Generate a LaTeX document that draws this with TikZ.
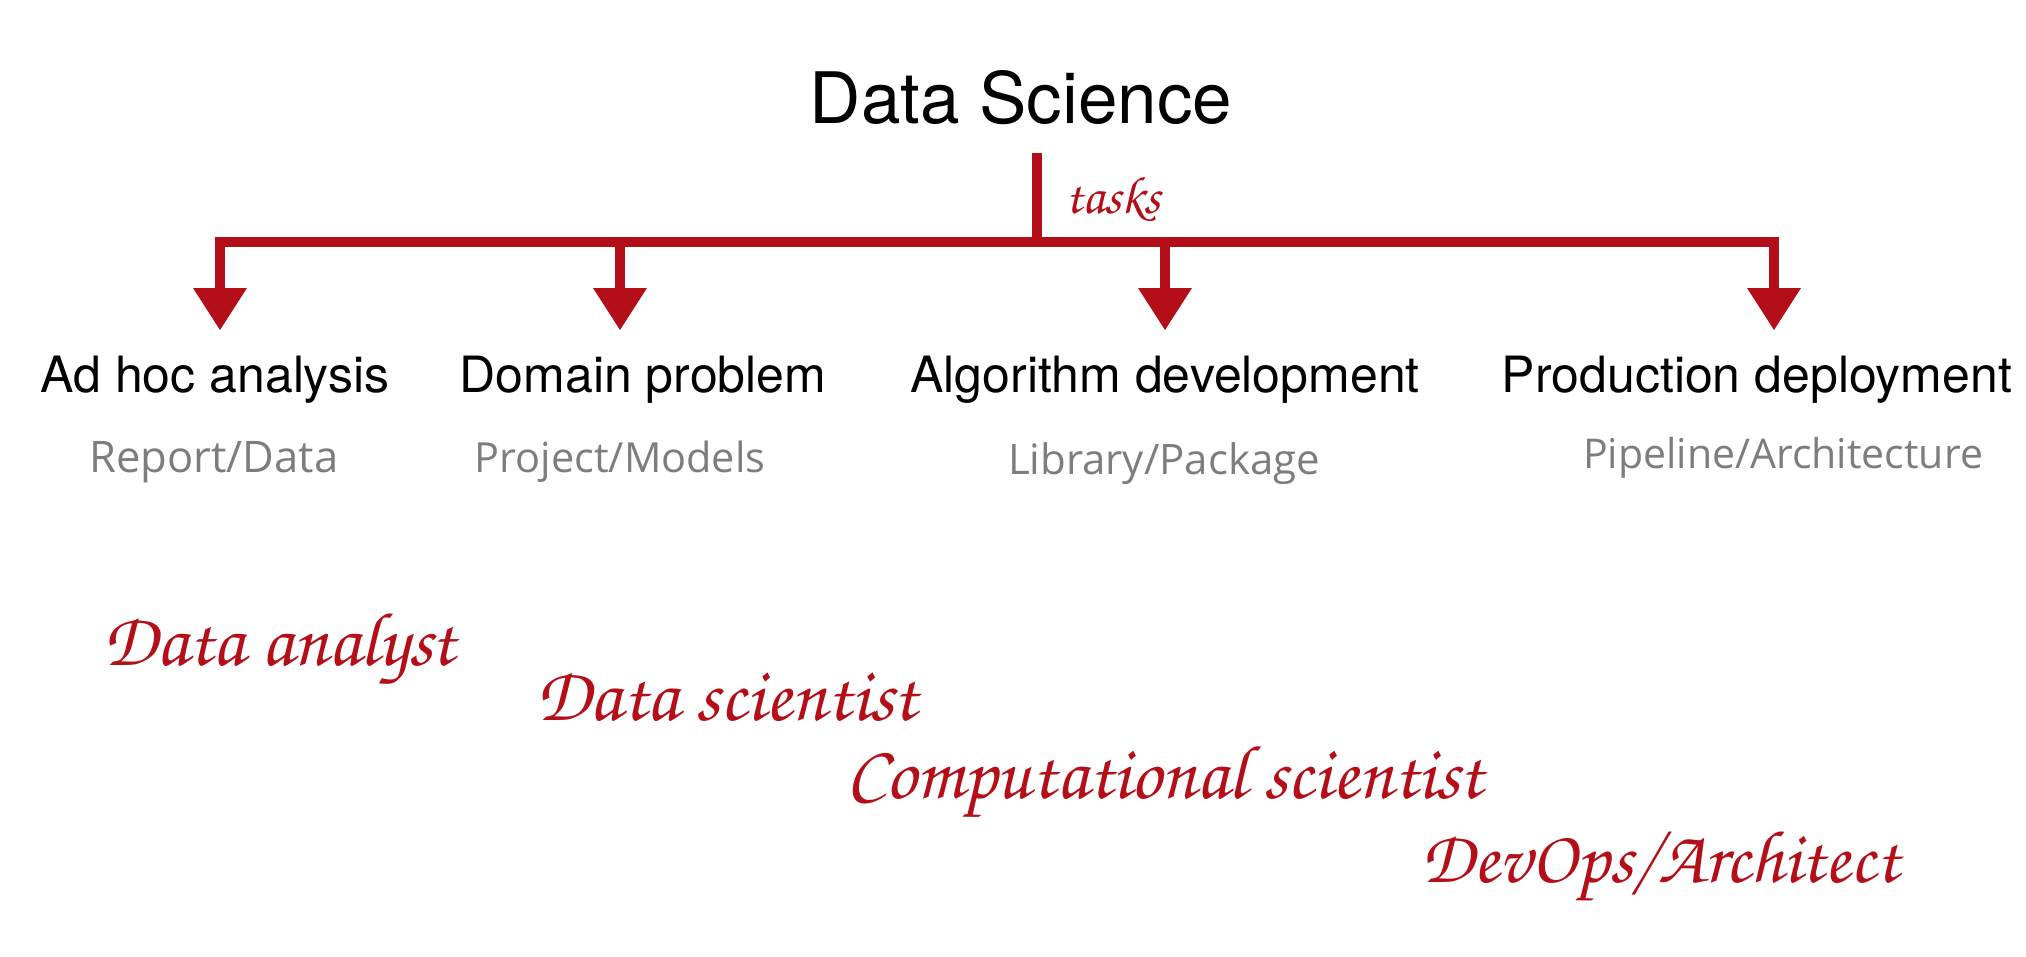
\documentclass[tikz,border=0pt]{standalone}
\usepackage{fontspec}
\usepackage{graphicx}
\usetikzlibrary{arrows.meta}
\setmainfont{TeX Gyre Heros}
\newfontfamily\handfont{texgyrechorus-mediumitalic.otf}
\newfontfamily\subfont{Open Sans}
\definecolor{crayon}{RGB}{180,14,24}
\definecolor{subgray}{RGB}{125,125,125}
\newcommand{\fitw}[2]{\resizebox{#1pt}{!}{#2}}
\begin{document}
\begin{tikzpicture}[x=1pt,y=-1pt,
  titletext/.style={font=\fontsize{71}{80}\selectfont, inner sep=0pt, anchor=base},
  tasktext/.style={font=\fontsize{50}{60}\selectfont, inner sep=0pt, anchor=base},
  subtext/.style={text=subgray, inner sep=0pt, anchor=base},
  roletext/.style={text=crayon, inner sep=0pt, anchor=base west},
  crayonline/.style={draw=crayon, line width=10pt},
  tiphead/.style={-{Triangle[width=54pt,length=42pt,line width=0pt]}}
]
\useasboundingbox (0,0) rectangle (2026,956);
% title
\node[titletext] (title) at (1021,123) {Data Science};
% connectors
\coordinate (top) at (1037,153);
\coordinate (hub) at (1037,242);
\coordinate (cL) at (220,242);
\coordinate (cB) at (620,242);
\coordinate (cC) at (1165,242);
\coordinate (cR) at (1774,242);
\coordinate (tA) at (220,330);
\coordinate (tB) at (620,330);
\coordinate (tC) at (1165,330);
\coordinate (tD) at (1774,330);
\draw[crayonline] (top) -- ([yshift=-5pt]hub);
\draw[crayonline, {Triangle[width=54pt,length=42pt,line width=0pt]}-{Triangle[width=54pt,length=42pt,line width=0pt]}, line join=miter] (tA) -- (cL) -- (cR) -- (tD);
\draw[crayonline, tiphead] ([yshift=-5pt]cB) -- (tB);
\draw[crayonline, tiphead] ([yshift=-5pt]cC) -- (tC);
\node[roletext] (tasks) at (1065,213) {\fitw{95}{\handfont\fontsize{40}{40}\selectfont tasks}};
% tasks
\node[tasktext] (adhoc) at (215,392) {Ad hoc analysis};
\node[tasktext] (domain) at (643,392) {Domain problem};
\node[tasktext] (algo) at (1165,392) {Algorithm development};
\node[tasktext] (prod) at (1757,392) {Production deployment};
% subtitles
\node[subtext] (report) at (214,472) {\fitw{249}{\subfont\fontsize{40}{40}\selectfont Report/Data}};
\node[subtext] (project) at (620,472) {\fitw{291}{\subfont\fontsize{40}{40}\selectfont Project/Models}};
\node[subtext] (library) at (1164,474) {\fitw{312}{\subfont\fontsize{40}{40}\selectfont Library/Package}};
\node[subtext] (pipeline) at (1783,468) {\fitw{400}{\subfont\fontsize{40}{40}\selectfont Pipeline/Architecture}};
% roles
\node[roletext] (analyst) at (103,665) {\fitw{352}{\handfont\fontsize{60}{60}\selectfont Data analyst}};
\node[roletext] (scientist) at (536,720) {\fitw{381}{\handfont\fontsize{60}{60}\selectfont Data scientist}};
\node[roletext] (comp) at (846,798) {\fitw{637}{\handfont\fontsize{60}{60}\selectfont Computational scientist}};
\node[roletext] (devops) at (1421,882) {\fitw{478}{\handfont\fontsize{60}{60}\selectfont DevOps/Architect}};
\end{tikzpicture}
\end{document}
